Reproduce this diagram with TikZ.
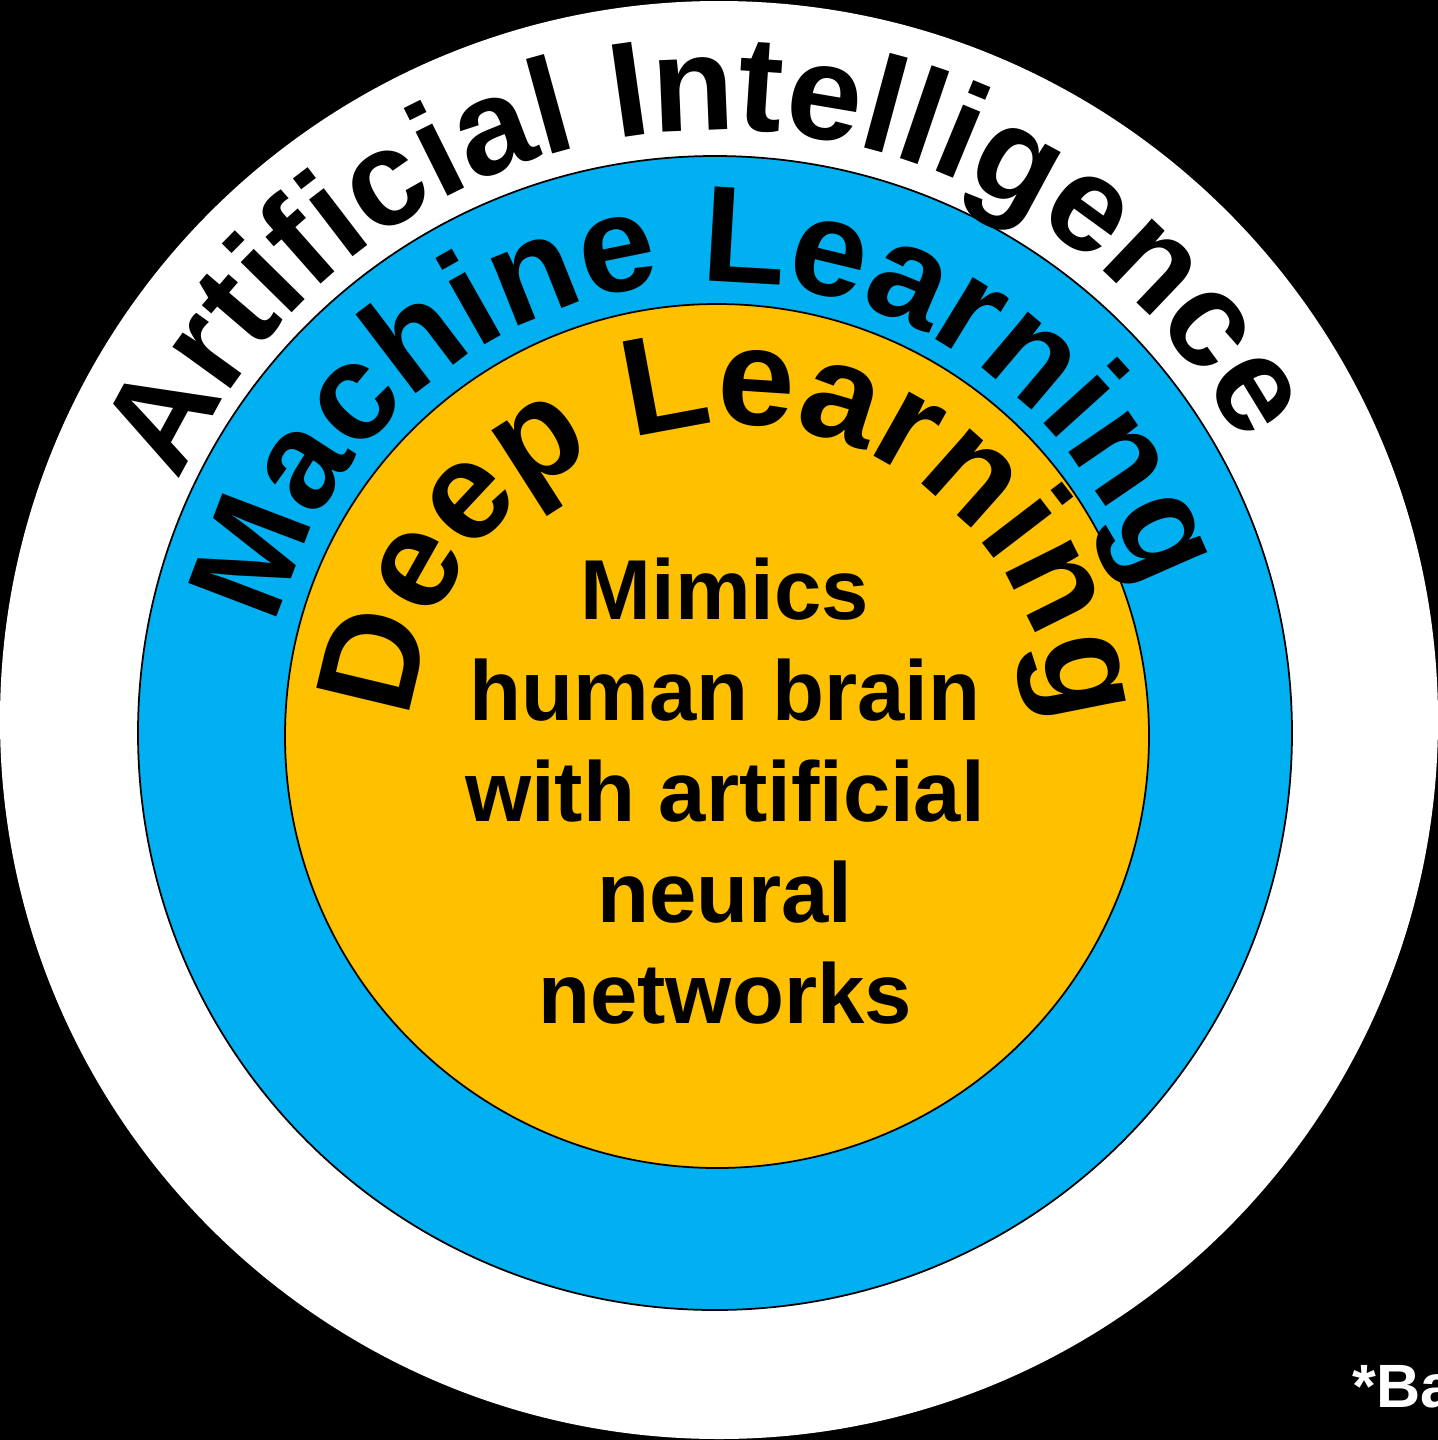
\documentclass[tikz,border=0pt]{standalone}
\usepackage{fontspec}
\setmainfont{Liberation Sans}
\usetikzlibrary{decorations.text}
\definecolor{mlblue}{HTML}{00B0F0}
\definecolor{dlgold}{HTML}{FFC000}
\begin{document}
\begin{tikzpicture}[
  ring/.style={draw=black,line width=.5pt},
  arctext/.style 2 args={decorate,decoration={text along path,text align=center,
    text={|\bfseries\fontsize{#1}{#1}\selectfont|#2}}}]
\useasboundingbox (0,0) rectangle (14.38,-14.40);
\fill[black] (0,0) rectangle (14.38,-14.40);
\coordinate (ai) at (7.19,-7.20);
\coordinate (ml) at (7.15,-7.33);
\coordinate (dl) at (7.17,-7.36);
\coordinate (dltext) at (7.32,-7.46);
% rings
\fill[white] (ai) circle (7.19);
\draw[ring,fill=mlblue] (ml) circle (5.77);
\draw[ring,fill=dlgold] (dl) circle (4.32);
% arched titles
\path[arctext={38.5}{Artificial Intelligence}] (ai) ++(182:5.90) arc[start angle=182,end angle=2,radius=5.90];
\path[arctext={39}{Machine Learning}] (ml) ++(182.4:4.51) arc[start angle=182.4,end angle=2.4,radius=4.51];
\path[arctext={39.5}{Deep Learning}] (dltext) ++(179.6:3.22) arc[start angle=179.6,end angle=-0.4,radius=3.22];
\node[font=\bfseries\fontsize{24.2}{28.7}\selectfont,align=center] (brain) at (7.25,-7.91)
  {Mimics\\human brain\\with artificial\\neural\\networks};
\node[text=white,font=\bfseries\fontsize{17.4}{17.4}\selectfont,anchor=base west,inner sep=0] (note) at (13.52,-14.07) {*Ba};
\end{tikzpicture}
\end{document}
